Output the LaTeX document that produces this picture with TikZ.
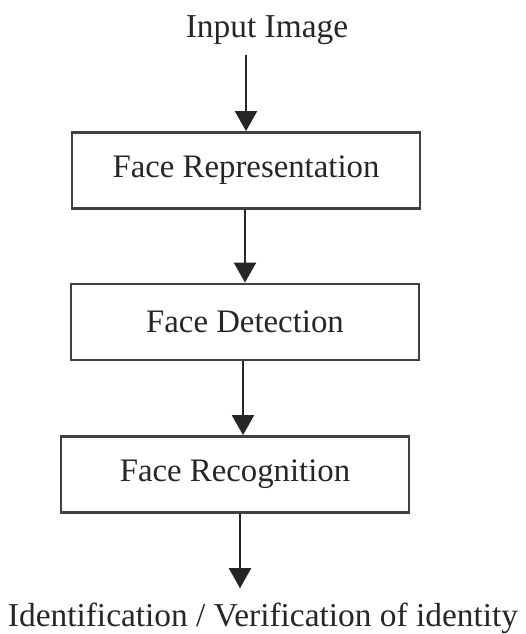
\documentclass[tikz,border=0pt]{standalone}
\usepackage{fontspec}
\setmainfont{Liberation Serif}
\usetikzlibrary{positioning}
\usetikzlibrary{arrows.meta}

\begin{document}
\begin{tikzpicture}[x=0.5pt,y=-0.5pt,
textnode/.style={font=\fontsize{16.7}{19}\selectfont, text=black!85, inner sep=0pt},
stagenode/.style={rectangle, draw=black!75, line width=1.4pt, minimum width=174pt, minimum height=38pt, font=\fontsize{16.4}{19}\selectfont, text=black!85},
flow/.style={draw=black!85, line width=1pt, -{Triangle[length=10pt,width=11pt]}},
]
\useasboundingbox (0,0) rectangle (526,634);

%Nodes
\node[textnode]         (input)      at (267,30)      {Input Image};
\node[stagenode]        (rep)        at (246,170.5)   {Face Representation};
\node[stagenode]        (det)        at (245,322)     {Face Detection};
\node[stagenode]        (rec)        at (235,474.5)   {Face Recognition};
\node[textnode]         (output)     at (263,618)     {Identification / Verification of identity};

%Lines
\draw[flow] ([yshift=-5pt]input.south -| rep.north) -- (rep.north);
\draw[flow] (rep.south -| det.north) -- (det.north);
\draw[flow] ([xshift=4pt]det.south -| rec.north) -- ([xshift=4pt]rec.north);
\draw[flow] ([xshift=2.5pt]rec.south) -- ([xshift=2.5pt,yshift=7pt]rec.south |- output.north);
\end{tikzpicture}
\end{document}
